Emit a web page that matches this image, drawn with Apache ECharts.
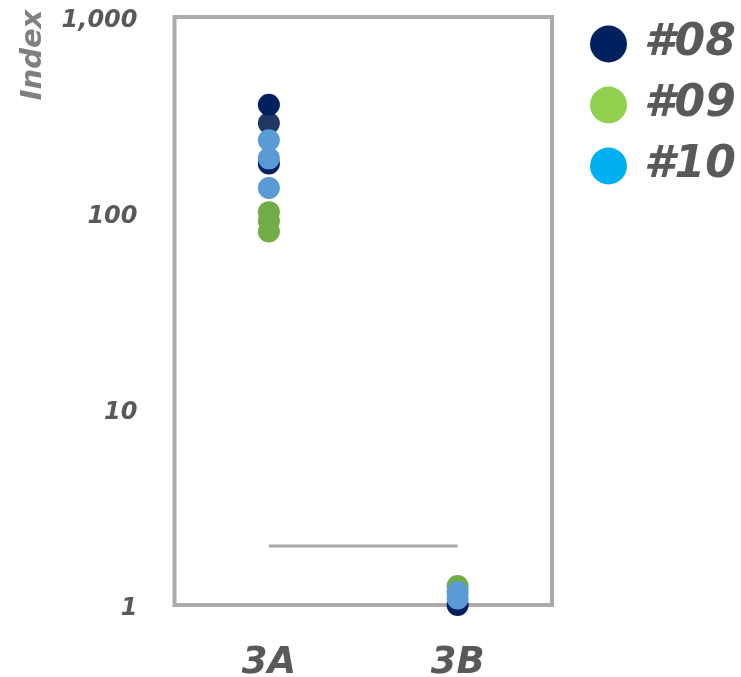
<!DOCTYPE html>
<html>
<head>
<meta charset="utf-8">
<script src="https://cdn.jsdelivr.net/npm/echarts@6/dist/echarts.min.js"></script>
<style>html,body{margin:0;padding:0;background:#fff;}#c{width:741px;height:677px;}</style>
</head>
<body>
<div id="c"></div>
<script>
const categories = ['3A', '3B'];
const seriesNames = ['#08', '#09', '#10'];
const legendColors = ['#002060', '#92D050', '#00B0F0'];
// [category, value, point colour]
const s08 = [['3A', 287, '#203864'], ['3A', 357, '#002060'], ['3A', 179, '#002060'], ['3B', 1.0, '#002060']];
const s09 = [['3A', 101, '#70AD47'], ['3A', 91, '#70AD47'], ['3A', 80.5, '#70AD47'], ['3B', 1.25, '#70AD47']];
const s10 = [['3A', 235, '#5B9BD5'], ['3A', 190, '#5B9BD5'], ['3A', 134, '#5B9BD5'], ['3B', 1.165, '#5B9BD5'], ['3B', 1.08, '#5B9BD5']];
const refLine = [['3A', 2], ['3B', 2]];
const yTicks = [1, 10, 100, 1000];

const font = 'DejaVu Sans';
function pts(arr) {
  return arr.map(d => ({ value: [d[0], d[1]], itemStyle: { color: d[2] } }));
}
const allData = [s08, s09, s10];
const chart = echarts.init(document.getElementById('c'));
const series = [{
  type: 'line', data: refLine, symbol: 'none', silent: true, z: 1,
  lineStyle: { color: '#ABA7A7', width: 3 }
}];
seriesNames.forEach((n, i) => {
  series.push({
    name: n, type: 'scatter', symbol: 'circle', symbolSize: 22, clip: false, z: 2 + i,
    itemStyle: { color: legendColors[i], opacity: 1 },
    data: pts(allData[i])
  });
});
chart.setOption({
  animation: false,
  backgroundColor: '#fff',
  grid: { left: 174.5, top: 17, right: 189, bottom: 72, show: true, borderColor: '#AEAAAA', borderWidth: 4, backgroundColor: 'transparent', outerBoundsMode: 'none', containLabel: false },
  xAxis: {
    type: 'category', data: categories, boundaryGap: true,
    axisLine: { show: false }, axisTick: { show: false }, splitLine: { show: false },
    axisLabel: { margin: 40, fontFamily: font, fontSize: 37, fontWeight: 'bold', fontStyle: 'italic', color: '#595959' }
  },
  yAxis: {
    type: 'log', logBase: 10, min: 1, max: 1000,
    axisLine: { show: false }, axisTick: { show: false }, splitLine: { show: false },
    axisLabel: {
      margin: 37, fontFamily: font, fontSize: 24, fontWeight: 'bold', fontStyle: 'italic', color: '#595959',
      formatter: v => yTicks.indexOf(Math.round(v)) >= 0 ? '{v|' + Math.round(v).toLocaleString('en-US') + '}' : '',
      rich: { v: { fontFamily: font, fontSize: 24, fontWeight: 'bold', fontStyle: 'italic', color: '#595959', padding: [7, 0, 0, 0] } }
    }
  },
  legend: {
    orient: 'vertical', left: 590, top: 22, padding: 0, itemGap: 17,
    icon: 'circle', itemWidth: 37, itemHeight: 37,
    data: seriesNames.map((n, i) => ({ name: n, itemStyle: { color: legendColors[i] } })),
    textStyle: { fontFamily: font, fontSize: 44, fontWeight: 'bold', fontStyle: 'italic', color: '#595959', padding: [4, 0, 0, 12] }
  },
  graphic: [{
    type: 'text', x: 33, y: 55, rotation: Math.PI / 2,
    style: { text: 'Index', fontFamily: font, fontSize: 29, fontWeight: 'bold', fontStyle: 'italic', fill: '#7F7F7F', align: 'center', verticalAlign: 'middle' }
  }],
  series: series
});
</script>
</body>
</html>
